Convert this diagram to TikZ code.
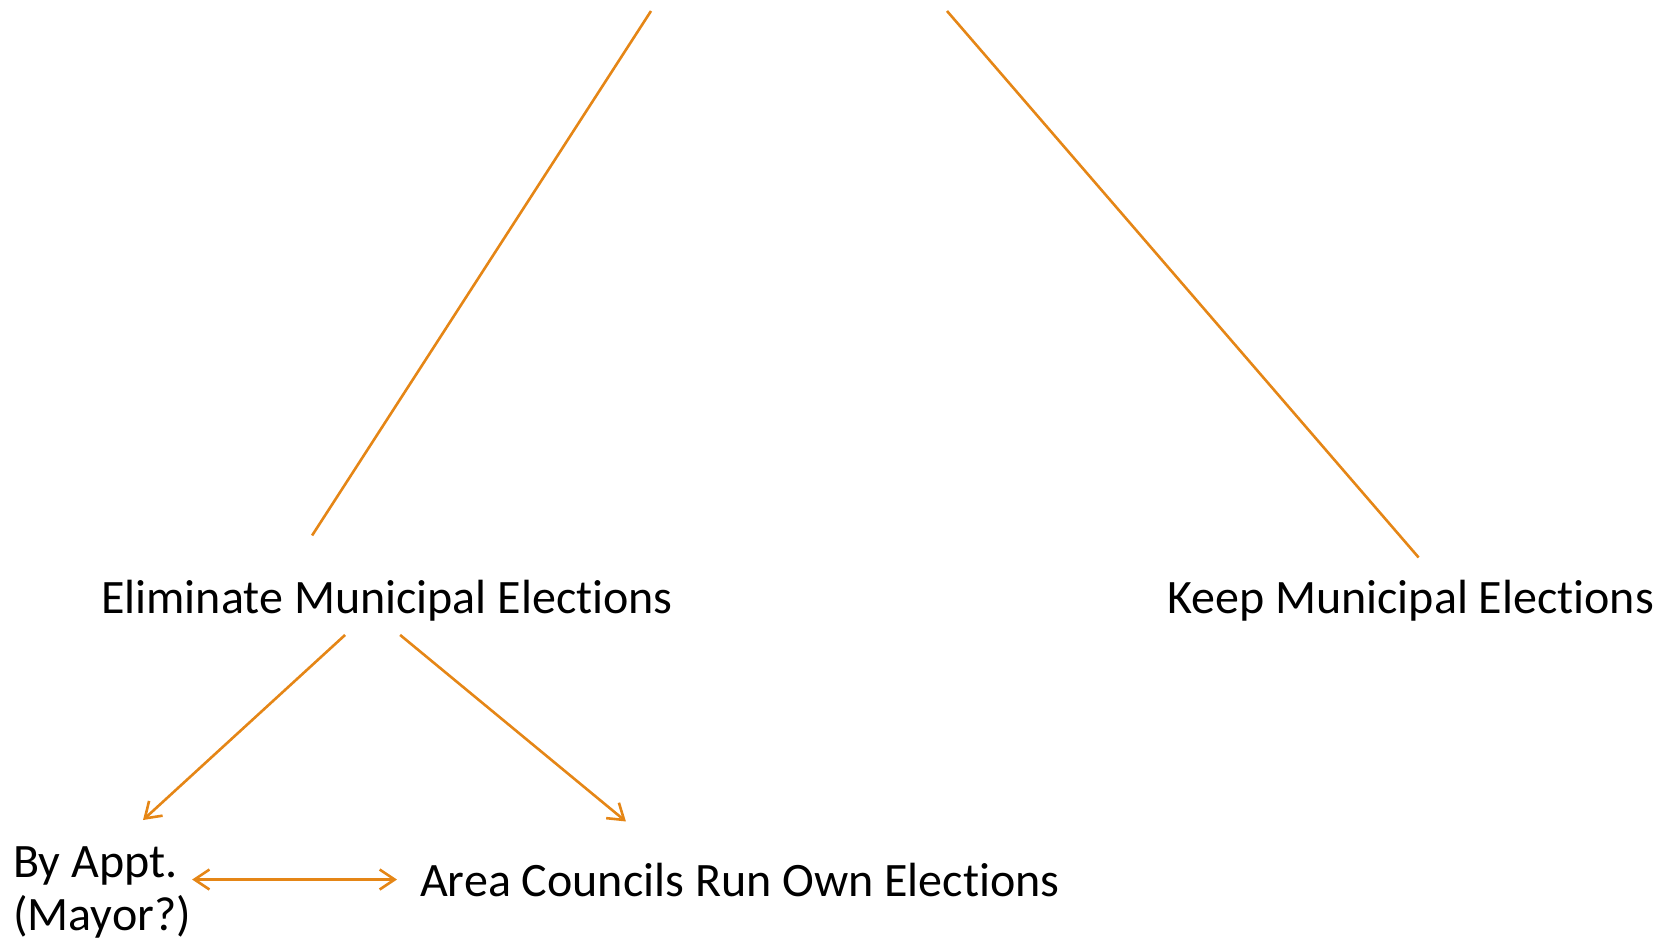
\documentclass[tikz,border=0pt]{standalone}
\usepackage{fontspec}
\setmainfont{Carlito}[Ligatures=NoCommon]
\usepackage{tikz}
\usetikzlibrary{arrows.meta}
\definecolor{elorange}{RGB}{229,134,22}

\begin{document}
\begin{tikzpicture}[x=1pt,y=-1pt]
      \tikzstyle{label}=[inner sep=0pt,font=\fontsize{48}{53}\selectfont,anchor=base west]
      \tikzstyle{link}=[draw=elorange,line width=2.6pt]
      \tikzstyle{arr}=[link,-{Straight Barb[length=15pt,width=20pt]}]
      \tikzstyle{dbl}=[link,{Straight Barb[length=15pt,width=20pt]}-{Straight Barb[length=15pt,width=20pt]}]
      \useasboundingbox (0,0) rectangle (1668,940);
      \coordinate (topL) at (651,11);
      \coordinate (topR) at (947,11);
      \node[label] (elim) at (101,613) {Eliminate Municipal Elections};
      \node[label] (keep) at (1167,613) {Keep Municipal Elections};
      \node[label] (area) at (420,896) {Area Councils Run Own Elections};
      \node[label,align=left] (appt) at (13,930) {By Appt.\\(Mayor?)};
      \draw[link] (topL) -- ([xshift=-75pt,yshift=44pt]elim.north);
      \draw[link] (topR) -- ([xshift=8pt,yshift=22pt]keep.north);
      \draw[arr] ([xshift=-42pt,yshift=-14pt]elim.south) -- ([xshift=41pt,yshift=26pt]appt.north);
      \draw[arr] ([xshift=13pt,yshift=-14pt]elim.south) -- ([xshift=-114pt,yshift=41pt]area.north);
      \draw[dbl] ([xshift=1pt]appt.east |- area.west) -- ([xshift=-23pt]area.west);
\end{tikzpicture}
\end{document}
